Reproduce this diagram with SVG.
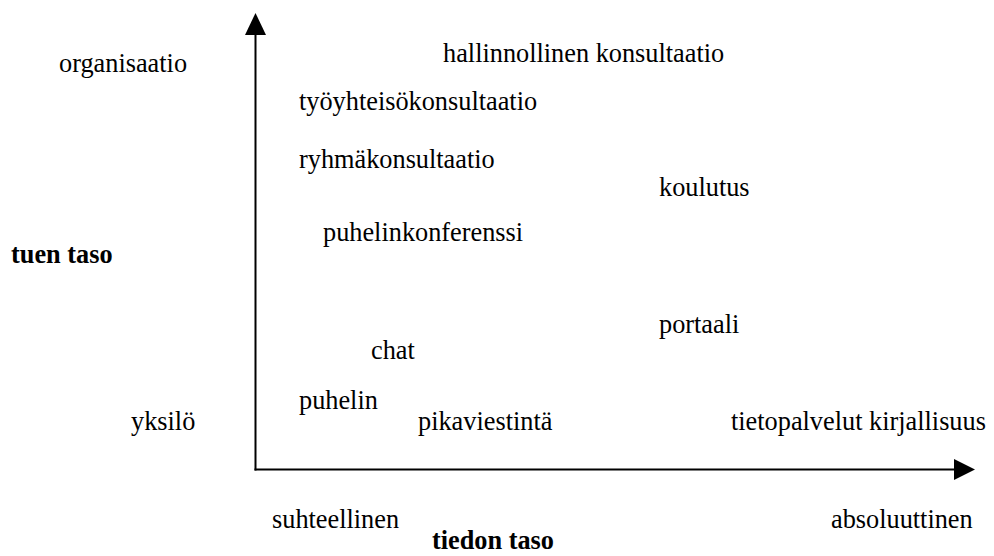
<svg xmlns="http://www.w3.org/2000/svg" width="994" height="556" viewBox="0 0 994 556">
<style>
text{font-family:"Liberation Serif","Times New Roman",serif;font-size:26.3px;fill:#000}
.b{font-weight:bold}
.ax{stroke:#000;stroke-width:2;fill:none}
.ah{fill:#000;stroke:none}
</style>
<rect width="994" height="556" fill="#fff"/>
<g id="connectors">
<line class="ax" x1="255.5" y1="470.5" x2="255.5" y2="33"/>
<polygon class="ah" points="255.5,13 245,35 266,35"/>
<line class="ax" x1="254.5" y1="469.5" x2="956" y2="469.5"/>
<polygon class="ah" points="975,469.5 954,459 954,480"/>
</g>
<g id="organisaatio"><text x="59" y="72">organisaatio</text></g>
<g id="hallinnollinen"><text x="443" y="62">hallinnollinen konsultaatio</text></g>
<g id="tyoyhteiso"><text x="299" y="110">työyhteisökonsultaatio</text></g>
<g id="ryhma"><text x="299" y="168">ryhmäkonsultaatio</text></g>
<g id="koulutus"><text x="659" y="196">koulutus</text></g>
<g id="puhelinkonferenssi"><text x="323" y="241">puhelinkonferenssi</text></g>
<g id="tuentaso"><text class="b" x="11" y="263">tuen taso</text></g>
<g id="portaali"><text x="659" y="333">portaali</text></g>
<g id="chat"><text x="371" y="359">chat</text></g>
<g id="puhelin"><text x="299" y="409">puhelin</text></g>
<g id="yksilo"><text x="131" y="430">yksilö</text></g>
<g id="pikaviestinta"><text x="418" y="430">pikaviestintä</text></g>
<g id="tietopalvelut"><text x="731" y="430">tietopalvelut kirjallisuus</text></g>
<g id="suhteellinen"><text x="272" y="528">suhteellinen</text></g>
<g id="absoluuttinen"><text x="831" y="528">absoluuttinen</text></g>
<g id="tiedontaso"><text class="b" x="432" y="549">tiedon taso</text></g>
</svg>
